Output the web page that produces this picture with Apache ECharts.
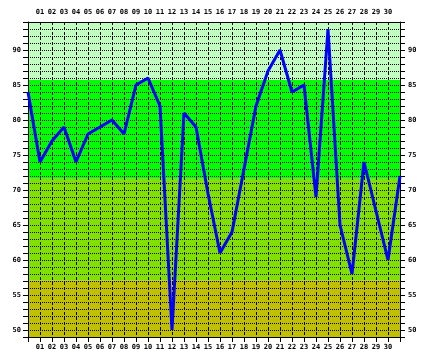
<!DOCTYPE html>
<html>
<head>
<meta charset="utf-8">
<script src="https://cdn.jsdelivr.net/npm/echarts@6/dist/echarts.min.js"></script>
<style>
html,body{margin:0;padding:0;background:#fff;}
#c{width:429px;height:360px;}
</style>
</head>
<body>
<div id="c"></div>
<script>
// Day positions (0 and 31 are the chart edges)
var days = [0,1,2,3,4,5,6,7,8,9,10,11,12,13,14,15,16,17,18,19,20,21,22,23,24,25,26,27,28,29,30,31];
var values = [84,74,77,79,74,78,79,80,78,85,86,82,50,81,79,69.5,61,64,73,82,87,90,84,85,69,93,65,58,74,67,60,72];
var dayLabels = ['01','02','03','04','05','06','07','08','09','10','11','12','13','14','15','16','17','18','19','20','21','22','23','24','25','26','27','28','29','30'];
var yLabelValues = [50,55,60,65,70,75,80,85,90];
// Background bands [from, to, colour]
var bandLimits = [49, 57.1, 71.6, 85.7, 94];
var bandColors = ['#c0c000', '#80e000', '#00ff00', '#c0ffc0'];

var FONT = {fontFamily:'DejaVu Sans Mono', fontSize:7, fontWeight:'bold', color:'#000'};

function xFmt(v){ return (v>=1 && v<=30) ? dayLabels[v-1] : ''; }
function yFmt(v){ return yLabelValues.indexOf(v) >= 0 ? String(v) : ''; }

var bands = [];
for (var i=0;i<bandColors.length;i++){
  bands.push([{yAxis: bandLimits[i], itemStyle:{color: bandColors[i], opacity:1}}, {yAxis: bandLimits[i+1]}]);
}

var axisLine = {show:true, onZero:false, lineStyle:{color:'#000', width:1}};

var chart = echarts.init(document.getElementById('c'), null, {renderer:'canvas'});
chart.setOption({
  animation:false,
  backgroundColor:'#fff',
  grid:{left:28, top:22, right:29, bottom:23, containLabel:false, outerBoundsMode:'none'},
  xAxis:[
    {type:'value', position:'bottom', min:0, max:31, interval:1, z:2,
     axisLine:axisLine,
     axisTick:{show:true, length:5, lineStyle:{color:'#000'}},
     axisLabel:Object.assign({margin:7, formatter:xFmt, showMinLabel:true, showMaxLabel:true}, FONT),
     splitLine:{show:true, lineStyle:{color:'#000', width:1, type:[3,2]}}},
    {type:'value', position:'top', min:0, max:31, interval:1, z:2,
     axisLine:axisLine,
     axisTick:{show:false},
     axisLabel:Object.assign({margin:6, formatter:xFmt}, FONT),
     splitLine:{show:false}}
  ],
  yAxis:[
    {type:'value', position:'left', min:49, max:94, interval:1, z:2,
     axisLine:axisLine,
     axisTick:{show:true, length:5, lineStyle:{color:'#000'}},
     axisLabel:Object.assign({margin:7, formatter:yFmt, showMinLabel:true, showMaxLabel:true}, FONT),
     splitLine:{show:true, lineStyle:{color:'#000', width:1, type:[1,1]}}},
    {type:'value', position:'right', min:49, max:94, interval:1, z:2,
     axisLine:axisLine,
     axisTick:{show:true, length:5, lineStyle:{color:'#000'}},
     axisLabel:Object.assign({margin:8, formatter:yFmt}, FONT),
     splitLine:{show:false}}
  ],
  series:[
    {type:'line', xAxisIndex:0, yAxisIndex:0, data:[], silent:true,
     markArea:{silent:true, z:1, data:bands}},
    {type:'line', xAxisIndex:0, yAxisIndex:0, z:5, silent:true,
     data: days.map(function(d,i){return [d, values[i]];}),
     showSymbol:false, symbol:'none', smooth:false,
     lineStyle:{color:'#0000ff', width:3}}
  ]
});
</script>
</body>
</html>
